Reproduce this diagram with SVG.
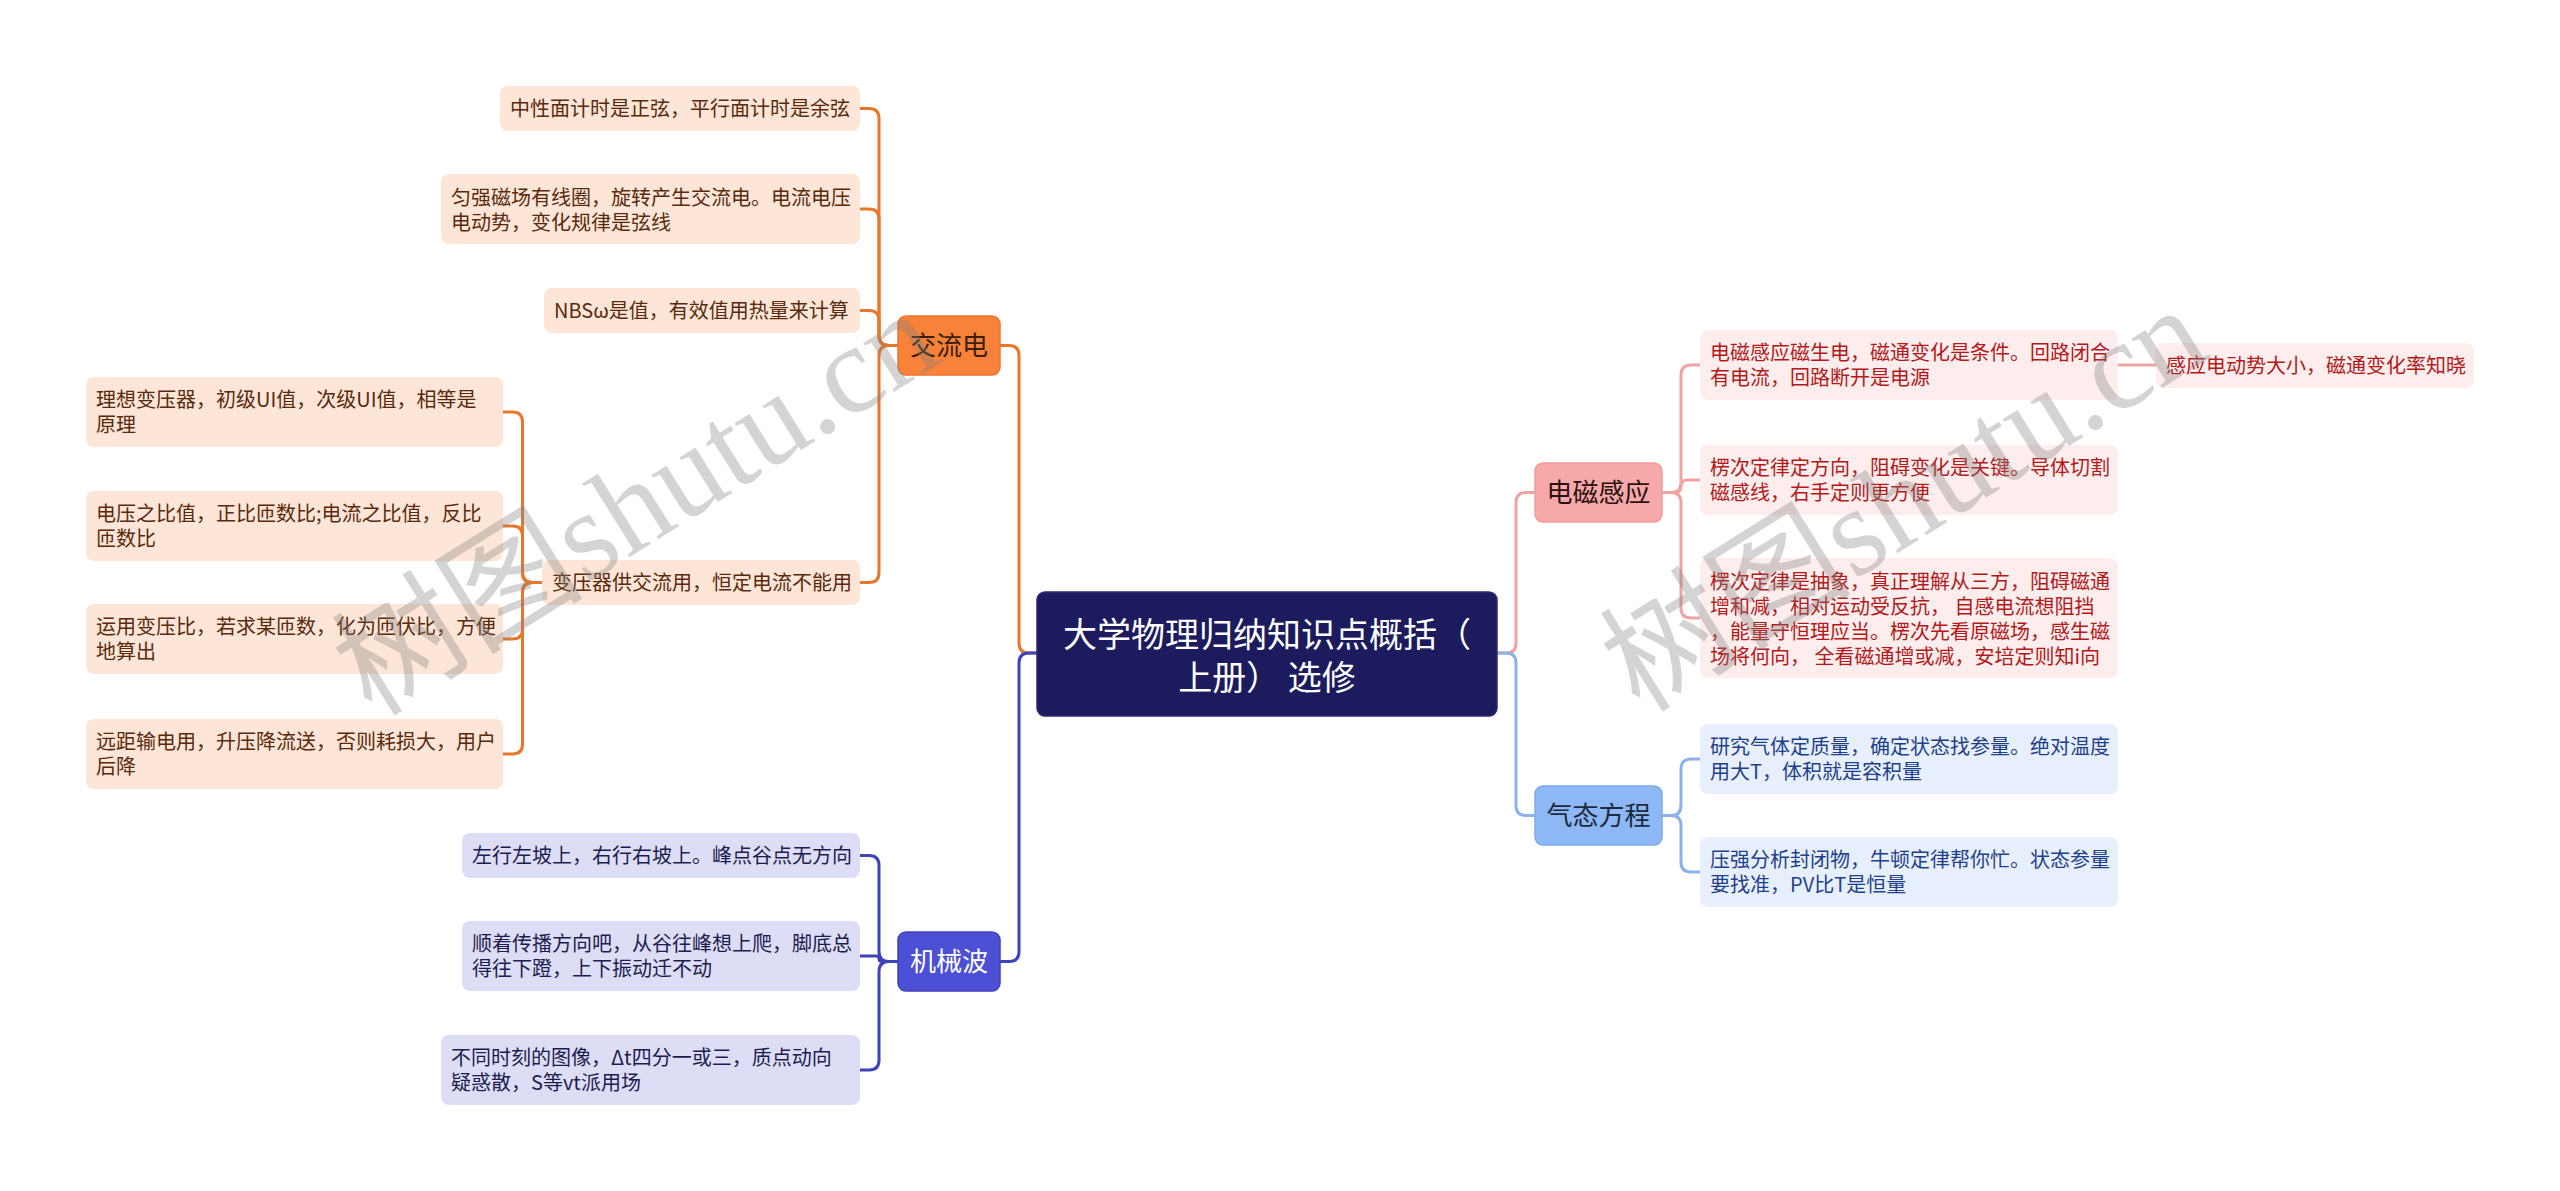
<svg xmlns="http://www.w3.org/2000/svg" width="2560" height="1191" viewBox="0 0 2560 1191">
<style>
text{font-family:"Noto Sans CJK SC","Noto Sans",sans-serif;}
.t20{font-size:20px;}
.c{fill:none;stroke-width:3;stroke-linecap:round;}
.or{stroke:#E8772E;}
.bl{stroke:#3E43B8;}
.pk{stroke:#EFA3A3;}
.lb{stroke:#8DB2EA;}
.boxO{fill:#FDE5D7;}
.txtO{fill:#5B2A0C;}
.boxB{fill:#DDDEF6;}
.txtB{fill:#1C1C50;}
.boxP{fill:#FDEDED;}
.txtP{fill:#B3191A;}
.boxL{fill:#E7EFFC;}
.txtL{fill:#1E3F8A;}
.wm{font-family:"Liberation Serif","Noto Sans CJK SC",serif;font-size:126px;fill:#808080;fill-opacity:0.34;}
</style>
<rect width="2560" height="1191" fill="#ffffff"/>
<g id="connectors">
<path class="c or" d="M1037 653 L1029 653 Q1019 653 1019 643 L1019 355.5 Q1019 345.5 1009 345.5 L1000 345.5"/>
<path class="c bl" d="M1037 653 L1029 653 Q1019 653 1019 663 L1019 951.5 Q1019 961.5 1009 961.5 L1000 961.5"/>
<path class="c pk" d="M1497 653 L1506 653 Q1516 653 1516 643 L1516 502.5 Q1516 492.5 1526 492.5 L1535 492.5"/>
<path class="c lb" d="M1497 653 L1506 653 Q1516 653 1516 663 L1516 805.5 Q1516 815.5 1526 815.5 L1535 815.5"/>
<path class="c or" d="M898 345.5 L889 345.5 Q879 345.5 879 335.5 L879 118.5 Q879 108.5 869 108.5 L860 108.5"/>
<path class="c or" d="M898 345.5 L889 345.5 Q879 345.5 879 335.5 L879 219 Q879 209 869 209 L860 209"/>
<path class="c or" d="M898 345.5 L889 345.5 Q879 345.5 879 335.5 L879 320.5 Q879 310.5 869 310.5 L860 310.5"/>
<path class="c or" d="M898 345.5 L889 345.5 Q879 345.5 879 355.5 L879 572.5 Q879 582.5 869 582.5 L860 582.5"/>
<path class="c or" d="M542 582.5 L532.5 582.5 Q522.5 582.5 522.5 572.5 L522.5 422 Q522.5 412 512.5 412 L503 412"/>
<path class="c or" d="M542 582.5 L532.5 582.5 Q522.5 582.5 522.5 572.5 L522.5 536 Q522.5 526 512.5 526 L503 526"/>
<path class="c or" d="M542 582.5 L532.5 582.5 Q522.5 582.5 522.5 592.5 L522.5 629 Q522.5 639 512.5 639 L503 639"/>
<path class="c or" d="M542 582.5 L532.5 582.5 Q522.5 582.5 522.5 592.5 L522.5 744 Q522.5 754 512.5 754 L503 754"/>
<path class="c bl" d="M898 961.5 L889 961.5 Q879 961.5 879 951.5 L879 865.5 Q879 855.5 869 855.5 L860 855.5"/>
<path class="c bl" d="M898 961.5 L881.75 961.5 Q879 961.5 879 958.75 Q879 956 876.25 956 L860 956"/>
<path class="c bl" d="M898 961.5 L889 961.5 Q879 961.5 879 971.5 L879 1060 Q879 1070 869 1070 L860 1070"/>
<path class="c pk" d="M1662 492.5 L1671 492.5 Q1681 492.5 1681 482.5 L1681 375 Q1681 365 1691 365 L1700 365"/>
<path class="c pk" d="M1662 492.5 L1674.75 492.5 Q1681 492.5 1681 486.25 Q1681 480 1687.25 480 L1700 480"/>
<path class="c pk" d="M1662 492.5 L1671 492.5 Q1681 492.5 1681 502.5 L1681 608 Q1681 618 1691 618 L1700 618"/>
<path class="c pk" d="M2118 365 L2156 365"/>
<path class="c lb" d="M1662 815.5 L1671 815.5 Q1681 815.5 1681 805.5 L1681 769 Q1681 759 1691 759 L1700 759"/>
<path class="c lb" d="M1662 815.5 L1671 815.5 Q1681 815.5 1681 825.5 L1681 862 Q1681 872 1691 872 L1700 872"/>
</g>

<g id="root">
<rect x="1037" y="592" width="460" height="124" rx="8" fill="#1C1B5E" stroke="#2B2A72" stroke-width="1.5"/>
<text x="1267" y="647" font-size="34" fill="#ffffff" text-anchor="middle">大学物理归纳知识点概括（</text>
<text x="1267" y="690" font-size="34" fill="#ffffff" text-anchor="middle">上册） 选修</text>
</g>

<g id="jiaoliudian">
<rect x="898" y="316" width="102" height="59" rx="8" fill="#F8823A" stroke="#EC7430" stroke-width="1.5"/>
<text x="949" y="355" font-size="26" fill="#3B1D0A" text-anchor="middle">交流电</text>
</g>
<g id="a1">
<rect class="boxO" x="500" y="86" width="360" height="45" rx="8"/>
<text class="t20 txtO" x="510" y="115.5">中性面计时是正弦，平行面计时是余弦</text>
</g>
<g id="a2">
<rect class="boxO" x="441" y="174" width="419" height="70" rx="8"/>
<text class="t20 txtO" x="451" y="204.5">匀强磁场有线圈，旋转产生交流电。电流电压</text>
<text class="t20 txtO" x="451" y="229.5">电动势，变化规律是弦线</text>
</g>
<g id="a3">
<rect class="boxO" x="544" y="288" width="316" height="45" rx="8"/>
<text class="t20 txtO" x="554" y="317.5">NBSω是值，有效值用热量来计算</text>
</g>
<g id="a4">
<rect class="boxO" x="542" y="560" width="318" height="45" rx="8"/>
<text class="t20 txtO" x="552" y="589.5">变压器供交流用，恒定电流不能用</text>
</g>
<g id="c1">
<rect class="boxO" x="86" y="377" width="417" height="70" rx="8"/>
<text class="t20 txtO" x="96" y="407">理想变压器，初级UI值，次级UI值，相等是</text>
<text class="t20 txtO" x="96" y="432">原理</text>
</g>
<g id="c2">
<rect class="boxO" x="86" y="491" width="417" height="70" rx="8"/>
<text class="t20 txtO" x="96" y="521">电压之比值，正比匝数比;电流之比值，反比</text>
<text class="t20 txtO" x="96" y="546">匝数比</text>
</g>
<g id="c3">
<rect class="boxO" x="86" y="604" width="417" height="70" rx="8"/>
<text class="t20 txtO" x="96" y="634">运用变压比，若求某匝数，化为匝伏比，方便</text>
<text class="t20 txtO" x="96" y="659">地算出</text>
</g>
<g id="c4">
<rect class="boxO" x="86" y="719" width="417" height="70" rx="8"/>
<text class="t20 txtO" x="96" y="749">远距输电用，升压降流送，否则耗损大，用户</text>
<text class="t20 txtO" x="96" y="774">后降</text>
</g>

<g id="jixiebo">
<rect x="898" y="932" width="102" height="59" rx="8" fill="#4C50D4" stroke="#3E43B8" stroke-width="1.5"/>
<text x="949" y="971" font-size="26" fill="#ffffff" text-anchor="middle">机械波</text>
</g>
<g id="b1">
<rect class="boxB" x="462" y="833" width="398" height="45" rx="8"/>
<text class="t20 txtB" x="472" y="862.5">左行左坡上，右行右坡上。峰点谷点无方向</text>
</g>
<g id="b2">
<rect class="boxB" x="462" y="921" width="398" height="70" rx="8"/>
<text class="t20 txtB" x="472" y="951">顺着传播方向吧，从谷往峰想上爬，脚底总</text>
<text class="t20 txtB" x="472" y="976">得往下蹬，上下振动迁不动</text>
</g>
<g id="b3">
<rect class="boxB" x="441" y="1035" width="419" height="70" rx="8"/>
<text class="t20 txtB" x="451" y="1065">不同时刻的图像，Δt四分一或三，质点动向</text>
<text class="t20 txtB" x="451" y="1090">疑惑散，S等vt派用场</text>
</g>

<g id="dianci">
<rect x="1535" y="463" width="127" height="59" rx="8" fill="#F7A8A8" stroke="#EE9C9C" stroke-width="1.5"/>
<text x="1598.5" y="502" font-size="26" fill="#2B1010" text-anchor="middle">电磁感应</text>
</g>
<g id="e1">
<rect class="boxP" x="1700" y="330" width="418" height="70" rx="8"/>
<text class="t20 txtP" x="1710" y="360">电磁感应磁生电，磁通变化是条件。回路闭合</text>
<text class="t20 txtP" x="1710" y="385">有电流，回路断开是电源</text>
</g>
<g id="e1a">
<rect class="boxP" x="2156" y="343" width="318" height="45" rx="8"/>
<text class="t20 txtP" x="2166" y="372.5">感应电动势大小，磁通变化率知晓</text>
</g>
<g id="e2">
<rect class="boxP" x="1700" y="445" width="418" height="70" rx="8"/>
<text class="t20 txtP" x="1710" y="474.5">楞次定律定方向，阻碍变化是关键。导体切割</text>
<text class="t20 txtP" x="1710" y="499.5">磁感线，右手定则更方便</text>
</g>
<g id="e3">
<rect class="boxP" x="1700" y="558" width="418" height="120" rx="8"/>
<text class="t20 txtP" x="1710" y="588.5">楞次定律是抽象，真正理解从三方，阻碍磁通</text>
<text class="t20 txtP" x="1710" y="613.5">增和减，相对运动受反抗， 自感电流想阻挡</text>
<text class="t20 txtP" x="1710" y="638.5">，能量守恒理应当。楞次先看原磁场，感生磁</text>
<text class="t20 txtP" x="1710" y="663.5">场将何向， 全看磁通增或减，安培定则知i向</text>
</g>

<g id="qitai">
<rect x="1535" y="786" width="127" height="59" rx="8" fill="#8DB7F5" stroke="#80AAEC" stroke-width="1.5"/>
<text x="1598.5" y="825" font-size="26" fill="#1C2A40" text-anchor="middle">气态方程</text>
</g>
<g id="g1">
<rect class="boxL" x="1700" y="724" width="418" height="70" rx="8"/>
<text class="t20 txtL" x="1710" y="754">研究气体定质量，确定状态找参量。绝对温度</text>
<text class="t20 txtL" x="1710" y="779">用大T，体积就是容积量</text>
</g>
<g id="g2">
<rect class="boxL" x="1700" y="837" width="418" height="70" rx="8"/>
<text class="t20 txtL" x="1710" y="867">压强分析封闭物，牛顿定律帮你忙。状态参量</text>
<text class="t20 txtL" x="1710" y="892">要找准，PV比T是恒量</text>
</g>

<g id="watermarks">
<text class="wm" transform="translate(372 718) rotate(-32)">树图shutu.cn</text>
<text class="wm" transform="translate(1640 714) rotate(-32)">树图shutu.cn</text>
</g>
</svg>
